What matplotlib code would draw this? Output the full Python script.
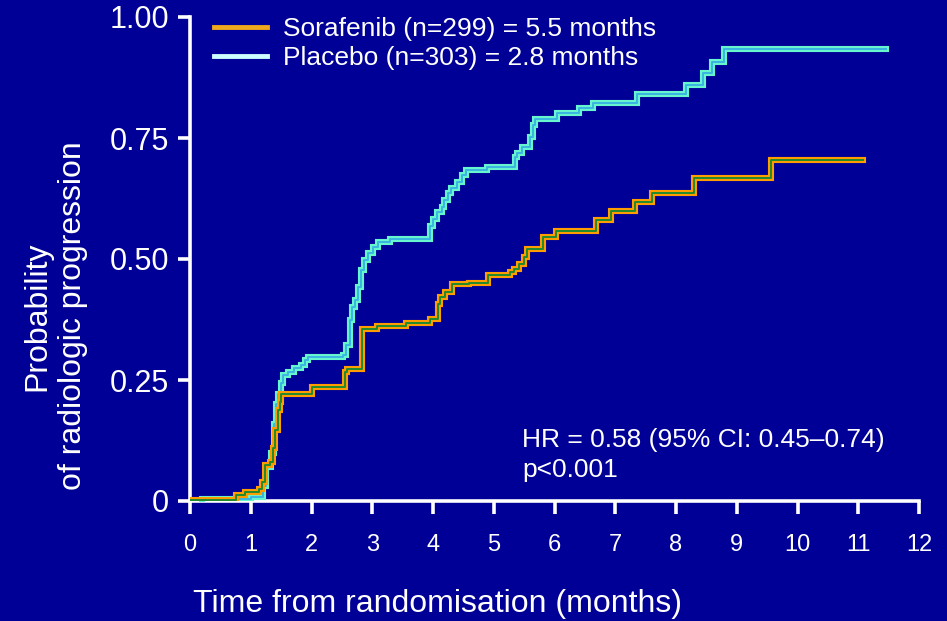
import matplotlib
matplotlib.use('Agg')
import matplotlib.pyplot as plt
from matplotlib.lines import Line2D

plt.rcParams['font.family'] = ['Liberation Sans', 'DejaVu Sans']

# Kaplan-Meier style step data (months, probability)
sor_t = [0, 0.76, 0.90, 1.14, 1.18, 1.23, 1.31, 1.36, 1.40, 1.45, 1.48, 1.50,
         2.01, 2.55, 2.58, 2.83, 3.08, 3.55, 3.95, 4.08, 4.12, 4.19, 4.31,
         4.59, 4.91, 5.26, 5.33, 5.42, 5.49, 5.55, 5.81, 6.03, 6.69, 6.93,
         7.32, 7.60, 8.30, 9.56, 11.07]
sor_p = [0.003, 0.012, 0.018, 0.024, 0.040, 0.074, 0.081, 0.109, 0.147, 0.188,
         0.205, 0.221, 0.236, 0.267, 0.272, 0.355, 0.362, 0.368, 0.376, 0.408,
         0.422, 0.432, 0.448, 0.451, 0.467, 0.474, 0.479, 0.489, 0.504, 0.520,
         0.545, 0.557, 0.581, 0.599, 0.618, 0.637, 0.668, 0.705, 0.705]

pla_t = [0, 0.20, 1.01, 1.20, 1.25, 1.33, 1.38, 1.42, 1.45, 1.50, 1.53, 1.61,
         1.72, 1.83, 1.89, 1.94, 2.52, 2.57, 2.63, 2.67, 2.71, 2.76, 2.82,
         2.87, 2.93, 3.02, 3.09, 3.29, 3.95, 4.00, 4.07, 4.14, 4.18, 4.25,
         4.30, 4.40, 4.47, 4.54, 4.89, 5.35, 5.38, 5.47, 5.59, 5.64, 5.68,
         6.04, 6.41, 6.64, 7.35, 8.16, 8.45, 8.60, 8.79, 11.46]
pla_p = [0.0, 0.004, 0.008, 0.030, 0.070, 0.100, 0.160, 0.200, 0.222, 0.243,
         0.260, 0.267, 0.274, 0.281, 0.291, 0.298, 0.302, 0.322, 0.374, 0.401,
         0.415, 0.443, 0.477, 0.498, 0.512, 0.525, 0.536, 0.541, 0.568, 0.582,
         0.598, 0.608, 0.622, 0.636, 0.646, 0.660, 0.674, 0.684, 0.691, 0.711,
         0.718, 0.732, 0.753, 0.777, 0.789, 0.801, 0.811, 0.822, 0.840, 0.860,
         0.884, 0.908, 0.933, 0.933]

labels = ['Sorafenib (n=299) = 5.5 months', 'Placebo (n=303) = 2.8 months']
xticks = list(range(0, 13))
yticks = [0, 0.25, 0.5, 0.75, 1.0]
yticklabels = ['0', '0.25', '0.50', '0.75', '1.00']

bg = '#000096'
fig = plt.figure(figsize=(9.47, 6.21), dpi=100, facecolor=bg)
ax = fig.add_axes([190/947, 120/621, 729/947, 484/621], facecolor=bg)

# placebo first, sorafenib drawn on top
ax.plot(pla_t, pla_p, drawstyle='steps-post', color='#66F5CC', lw=4.4,
        solid_joinstyle='miter', zorder=3)
ax.plot(pla_t, pla_p, drawstyle='steps-post', color='#3AB4E2', lw=1.4, zorder=4)
ax.plot(pla_t[1:-1], pla_p[1:-1], 's', color='#66F5CC', ms=5, mew=0, zorder=3)

ax.plot(sor_t, sor_p, drawstyle='steps-post', color='#FF9C00', lw=4.4,
        solid_joinstyle='miter', zorder=5)
ax.plot(sor_t, sor_p, drawstyle='steps-post', color='#1F8A2E', lw=1.4, zorder=6)
ax.plot(sor_t[1:-1], sor_p[1:-1], 's', color='#FF9C00', ms=5, mew=0, zorder=5)

ax.set_xlim(0, 12)
ax.set_ylim(0, 1)
ax.set_xticks(xticks)
ax.set_yticks(yticks)
ax.set_yticklabels(yticklabels)
for s in ['top', 'right']:
    ax.spines[s].set_visible(False)
for s in ['left', 'bottom']:
    ax.spines[s].set_color('white')
    ax.spines[s].set_linewidth(2.6)
ax.tick_params(axis='both', colors='white', width=2.6, length=9, direction='out')
ax.tick_params(axis='y', labelsize=22, pad=6)
ax.tick_params(axis='x', labelsize=17, pad=15)

fig.text(437/947, 1 - 604/621, 'Time from randomisation (months)',
         fontsize=23, color='white', ha='center', va='center')
fig.text(55/947, 1 - 316/621, 'Probability\nof radiologic progression',
         rotation=90, ha='center', va='center', fontsize=23, color='white',
         multialignment='center', linespacing=1.25)

handles = [Line2D([], [], color='#F0A81C', lw=3.5),
           Line2D([], [], color='#CCFFFF', lw=3.5)]
leg = ax.legend(handles, labels, loc='upper left', frameon=False,
                bbox_to_anchor=(214/947, 1 - 17/621),
                bbox_transform=fig.transFigure, fontsize=19,
                handlelength=2.0, handletextpad=0.6, labelspacing=0.2,
                borderpad=0, borderaxespad=0)
for t in leg.get_texts():
    t.set_color('white')

fig.text(522/947, 1 - 455/621, 'HR = 0.58 (95% CI: 0.45\u20130.74)\np<0.001',
         fontsize=19, color='white', ha='left', va='center', linespacing=1.3)

fig.savefig('out.png', dpi=100, facecolor=bg)
